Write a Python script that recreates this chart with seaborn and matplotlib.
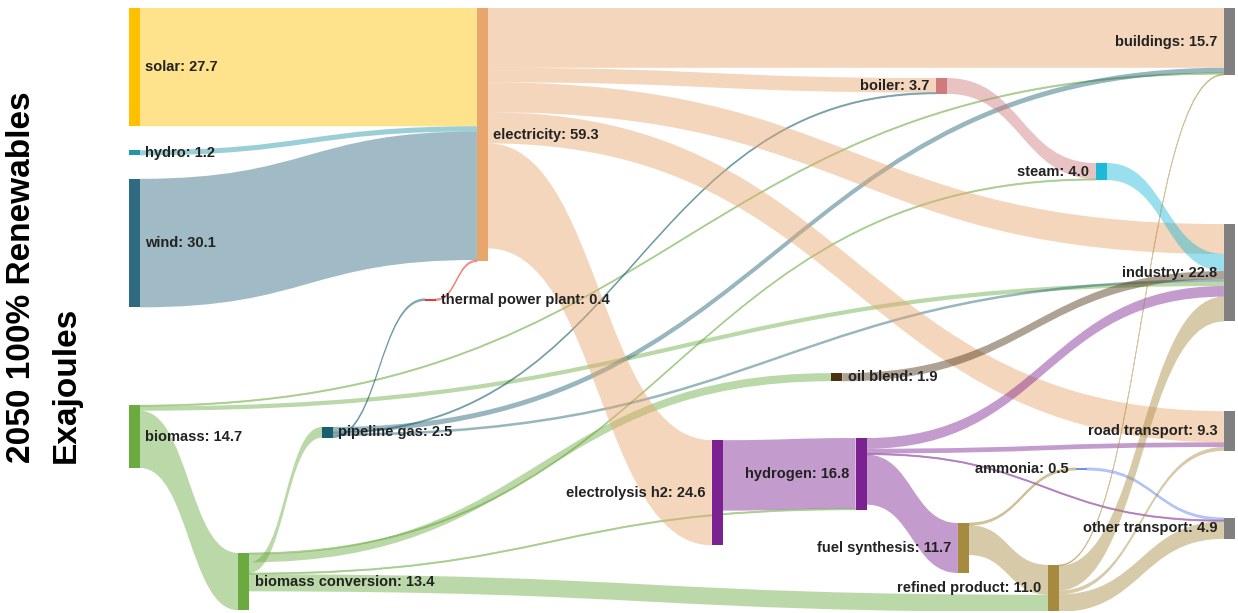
import matplotlib
matplotlib.use("Agg")
import matplotlib.pyplot as plt
from matplotlib.path import Path
from matplotlib.patches import PathPatch, Rectangle
import seaborn as sns

# ---- data (EJ, 2050 100% renewables) ----
node_names = ["solar", "hydro", "wind", "biomass", "biomass conversion",
              "pipeline gas", "thermal power plant", "electricity",
              "electrolysis h2", "hydrogen", "oil blend", "boiler",
              "fuel synthesis", "steam", "ammonia", "refined product",
              "buildings", "industry", "road transport", "other transport"]
node_values = [27.7, 1.2, 30.1, 14.7, 13.4, 2.5, 0.4, 59.3, 24.6, 16.8, 1.9,
               3.7, 11.7, 4.0, 0.5, 11.0, 15.7, 22.8, 9.3, 4.9]

link_source = ["solar", "hydro", "wind", "thermal power plant",
               "biomass", "biomass", "biomass",
               "biomass conversion", "biomass conversion", "biomass conversion",
               "biomass conversion", "biomass conversion",
               "pipeline gas", "pipeline gas", "pipeline gas", "pipeline gas",
               "electricity", "electricity", "electricity", "electricity", "electricity",
               "electrolysis h2",
               "hydrogen", "hydrogen", "hydrogen", "hydrogen",
               "boiler", "steam", "oil blend",
               "fuel synthesis", "fuel synthesis", "ammonia",
               "refined product", "refined product", "refined product", "refined product"]
link_target = ["electricity", "electricity", "electricity", "electricity",
               "buildings", "industry", "biomass conversion",
               "pipeline gas", "oil blend", "steam", "hydrogen", "refined product",
               "thermal power plant", "boiler", "buildings", "industry",
               "buildings", "boiler", "industry", "road transport", "electrolysis h2",
               "hydrogen",
               "industry", "road transport", "other transport", "fuel synthesis",
               "steam", "industry", "industry",
               "ammonia", "refined product", "other transport",
               "buildings", "industry", "road transport", "other transport"]
link_values = [27.7, 1.2, 30.1, 0.4,
               0.3, 1.0, 13.4,
               2.5, 1.9, 0.3, 0.3, 4.0,
               0.4, 0.3, 1.2, 0.6,
               14.0, 3.4, 7.0, 7.3, 24.6,
               16.5,
               2.5, 1.1, 0.3, 11.7,
               3.7, 4.0, 1.9,
               0.5, 7.0, 0.5,
               0.2, 5.8, 0.9, 4.1]

# ---- layout (fraction of width for x, EJ from top for y) ----
node_x = [0.0, 0.0, 0.0, 0.0, 0.0986, 0.1745, 0.2676, 0.3146, 0.527, 0.657,
          0.635, 0.7297, 0.7495, 0.8743, 0.856, 0.831, 0.990, 0.990, 0.990, 0.990]
node_y = [0.0, 33.3, 40.0, 93.0, 127.6, 98.1, 68.1, 0.0, 101.2, 100.7, 85.5,
          16.4, 120.6, 36.3, 107.7, 130.4, 0.0, 50.6, 94.4, 119.4]
label_left = {"electrolysis h2", "hydrogen", "boiler", "fuel synthesis", "steam",
              "ammonia", "refined product", "buildings", "industry",
              "road transport", "other transport"}
node_colors = ["#FFC000", "#2196A8", "#2E6A80", "#6AAA3F", "#6AAA3F", "#1A5E70",
               "#E8382F", "#E8A66C", "#7B2191", "#7B2191", "#4A3110", "#D07A7E",
               "#A68B3F", "#1EB8D8", "#6E8EF0", "#A68B3F", "#808080", "#808080",
               "#808080", "#808080"]
bar_w = 0.0099

sns.set_theme(style="white")
plt.rcParams["font.family"] = ["Liberation Sans", "DejaVu Sans"]

fig = plt.figure(figsize=(12.38, 6.13), dpi=100)
ax = fig.add_axes([129 / 1238, 2 / 613, 1106 / 1238, 603 / 613])
ax.set_xlim(0, 1)
ax.set_ylim(141.2, 0)
ax.axis("off")

idx = {n: i for i, n in enumerate(node_names)}
center = [node_y[i] + node_values[i] / 2 for i in range(len(node_names))]

# stack link ends at each node, ordered by the other end's position
out_off = {}
in_off = {}
for i, n in enumerate(node_names):
    outs = sorted([k for k in range(len(link_values)) if link_source[k] == n],
                  key=lambda k: center[idx[link_target[k]]])
    y = node_y[i]
    for k in outs:
        out_off[k] = y
        y += link_values[k]
    ins = sorted([k for k in range(len(link_values)) if link_target[k] == n],
                 key=lambda k: center[idx[link_source[k]]])
    y = node_y[i]
    for k in ins:
        in_off[k] = y
        y += link_values[k]

for k, v in enumerate(link_values):
    s, t = idx[link_source[k]], idx[link_target[k]]
    x1 = node_x[s] + bar_w
    x0 = node_x[t]
    xm = (x0 + x1) / 2
    sy0, ty0 = out_off[k], in_off[k]
    sy1, ty1 = sy0 + v, ty0 + v
    verts = [(x1, sy0), (xm, sy0), (xm, ty0), (x0, ty0),
             (x0, ty1), (xm, ty1), (xm, sy1), (x1, sy1), (x1, sy0)]
    codes = [Path.MOVETO, Path.CURVE4, Path.CURVE4, Path.CURVE4,
             Path.LINETO, Path.CURVE4, Path.CURVE4, Path.CURVE4, Path.CLOSEPOLY]
    lw = 0.6 if v < 0.6 else 0
    ax.add_patch(PathPatch(Path(verts, codes), facecolor=node_colors[s],
                           edgecolor=node_colors[s], linewidth=lw,
                           alpha=0.45, zorder=1))

for i, n in enumerate(node_names):
    ax.add_patch(Rectangle((node_x[i], node_y[i]), bar_w, node_values[i],
                           facecolor=node_colors[i], edgecolor="none", zorder=3))
    label = f"{n}: {node_values[i]:.1f}"
    if n in label_left:
        ax.text(node_x[i] - 0.006, center[i], label, ha="right", va="center",
                fontsize=10.5, fontweight="bold", color="#222222", zorder=4)
    else:
        ax.text(node_x[i] + bar_w + 0.005, center[i], label, ha="left", va="center",
                fontsize=10.5, fontweight="bold", color="#222222", zorder=4)

fig.text(22 / 1238, 1 - 463 / 613, "2050 100% Renewables", rotation=90,
         ha="center", va="bottom", fontsize=24, fontweight="bold", color="black")
fig.text(66 / 1238, 1 - 463 / 613, "Exajoules", rotation=90,
         ha="center", va="bottom", fontsize=24, fontweight="bold", color="black")

fig.savefig("out.png", dpi=100, facecolor="white")
